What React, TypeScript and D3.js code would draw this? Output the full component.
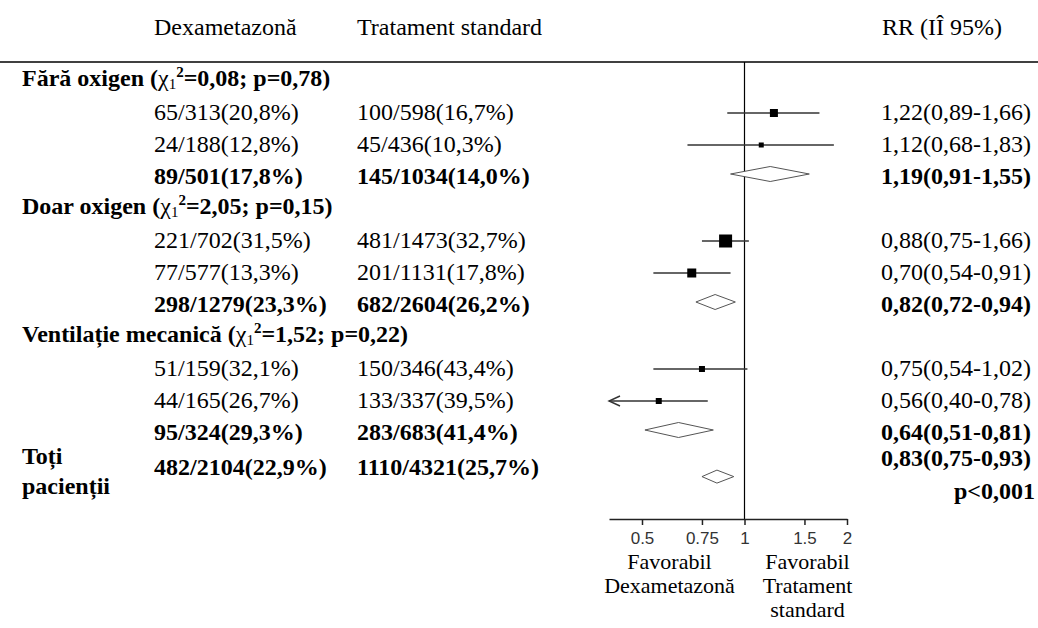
import React, { useRef, useEffect } from "react";
import * as d3 from "d3";

// subgroup headers
const groups = ["Fără oxigen", "Doar oxigen", "Ventilație mecanică"];
const groupChi = ["0,08", "2,05", "1,52"];
const groupP = ["0,78", "0,15", "0,22"];

// 3 rows per subgroup, the third one is the pooled estimate
const dexaCells = [
  "65/313(20,8%)", "24/188(12,8%)", "89/501(17,8%)",
  "221/702(31,5%)", "77/577(13,3%)", "298/1279(23,3%)",
  "51/159(32,1%)", "44/165(26,7%)", "95/324(29,3%)",
];
const stdCells = [
  "100/598(16,7%)", "45/436(10,3%)", "145/1034(14,0%)",
  "481/1473(32,7%)", "201/1131(17,8%)", "682/2604(26,2%)",
  "150/346(43,4%)", "133/337(39,5%)", "283/683(41,4%)",
];
const rrLabels = [
  "1,22(0,89-1,66)", "1,12(0,68-1,83)", "1,19(0,91-1,55)",
  "0,88(0,75-1,66)", "0,70(0,54-0,91)", "0,82(0,72-0,94)",
  "0,75(0,54-1,02)", "0,56(0,40-0,78)", "0,64(0,51-0,81)",
];
const rr = [1.22, 1.12, 1.19, 0.88, 0.7, 0.82, 0.75, 0.56, 0.64];
const ciLow = [0.89, 0.68, 0.91, 0.75, 0.54, 0.72, 0.54, 0.4, 0.51];
const ciHigh = [1.66, 1.83, 1.55, 1.03, 0.91, 0.94, 1.02, 0.78, 0.81];
const weights = [6.4, 2.5, 0, 16.9, 8.1, 0, 3.6, 3.6, 0];

// all patients
const totalDexa = "482/2104(22,9%)";
const totalStd = "1110/4321(25,7%)";
const totalRR = 0.83;
const totalLow = 0.75;
const totalHigh = 0.93;
const totalLabel = "0,83(0,75-0,93)";
const totalP = "p<0,001";

const tickValues = [0.5, 0.75, 1, 1.5, 2];

function App() {
  const svgRef = useRef<SVGSVGElement>(null);

  useEffect(() => {
    const W = 1038,
      H = 628;
    const serif = "'Liberation Serif', 'Times New Roman', serif";
    const fs = 24;

    const svg = d3.select(svgRef.current);
    svg.selectAll("*").remove();
    svg.attr("width", W).attr("height", H);

    const x = d3.scaleLog().domain([0.4, 2]).range([609, 847]);
    const row = d3.scaleLinear().domain([0, 1]).range([80, 112]); // row index -> y center
    const size = d3.scaleSqrt().domain([0, d3.max(weights)]).range([0, 13]);

    const colLabel = 22,
      colDexa = 154,
      colStd = 357,
      colRR = 881;

    const txt = (xx, yy, s, bold = false) =>
      svg
        .append("text")
        .attr("x", xx)
        .attr("y", yy + 8)
        .attr("font-family", serif)
        .attr("font-size", fs)
        .attr("font-weight", bold ? "bold" : "normal")
        .attr("fill", "#000")
        .text(s);

    // header
    txt(colDexa, 27, "Dexametazonă");
    txt(colStd, 27, "Tratament standard");
    txt(colRR + 1, 27, "RR (IÎ 95%)");
    svg
      .append("line")
      .attr("x1", 0)
      .attr("x2", W)
      .attr("y1", 62)
      .attr("y2", 62)
      .attr("stroke", "#000")
      .attr("stroke-width", 1.5);

    // line of no effect
    svg
      .append("line")
      .attr("x1", x(1))
      .attr("x2", x(1))
      .attr("y1", 62)
      .attr("y2", 519)
      .attr("stroke", "#000")
      .attr("stroke-width", 1.2);

    const diamond = (est, lo, hi, yy, h) =>
      svg
        .append("path")
        .attr(
          "d",
          `M${x(lo)},${yy}L${x(est)},${yy - h}L${x(hi)},${yy}L${x(est)},${yy + h}Z`
        )
        .attr("fill", "#fff")
        .attr("stroke", "#555")
        .attr("stroke-width", 1);

    groups.forEach((g, gi) => {
      const yh = row(gi * 4) - 2;
      const t = txt(colLabel, yh, g + " (", true);
      t.append("tspan").attr("font-weight", "normal").text("χ");
      t.append("tspan")
        .attr("font-weight", "normal")
        .attr("font-size", 15)
        .attr("dy", 3)
        .text("1");
      t.append("tspan").attr("font-size", 15).attr("dy", -12).text("2");
      t.append("tspan").attr("dy", 9).text(`=${groupChi[gi]}; p=${groupP[gi]})`);

      for (let k = 0; k < 3; k++) {
        const i = gi * 3 + k;
        const yy = row(gi * 4 + 1 + k);
        const pooled = k === 2;
        txt(colDexa, yy, dexaCells[i], pooled);
        txt(colStd, yy, stdCells[i], pooled);
        txt(colRR, yy, rrLabels[i], pooled);

        if (pooled) {
          diamond(rr[i], ciLow[i], ciHigh[i], yy - 2, 7.5);
        } else {
          const ym = yy + 1;
          const lo = Math.max(ciLow[i], x.domain()[0]);
          svg
            .append("line")
            .attr("x1", x(lo))
            .attr("x2", x(ciHigh[i]))
            .attr("y1", ym)
            .attr("y2", ym)
            .attr("stroke", "#333")
            .attr("stroke-width", 1.6);
          if (ciLow[i] <= x.domain()[0]) {
            svg
              .append("path")
              .attr(
                "d",
                `M${x(lo) + 11},${ym - 5}L${x(lo)},${ym}L${x(lo) + 11},${ym + 5}`
              )
              .attr("fill", "none")
              .attr("stroke", "#333")
              .attr("stroke-width", 1.4);
          }
          const s = size(weights[i]);
          svg
            .append("rect")
            .attr("x", x(rr[i]) - s / 2)
            .attr("y", ym - s / 2)
            .attr("width", s)
            .attr("height", s)
            .attr("fill", "#000");
        }
      }
    });

    // all patients
    const yT = row(11.8);
    txt(colLabel, yT - 2, "Toți", true);
    txt(colLabel, yT + 28, "pacienții", true);
    txt(colDexa, yT + 9, totalDexa, true);
    txt(colStd, yT + 9, totalStd, true);
    txt(colRR, yT, totalLabel, true);
    txt(1035, yT + 33, totalP, true).attr("text-anchor", "end");
    diamond(totalRR, totalLow, totalHigh, yT + 19, 6.5);

    // axis
    const axis = d3
      .axisBottom(x)
      .tickValues(tickValues)
      .tickSize(6)
      .tickSizeOuter(0)
      .tickFormat((d) => String(d));
    const ax = svg.append("g").attr("transform", "translate(0,519)").call(axis);
    ax.select(".domain").attr("stroke", "#222").attr("stroke-width", 1.5);
    ax.selectAll(".tick line").attr("stroke", "#222").attr("stroke-width", 1.5);
    ax.selectAll(".tick text")
      .attr("y", 13)
      .attr("font-family", "'Liberation Sans', Arial, sans-serif")
      .attr("font-size", 17)
      .attr("fill", "#333");

    // favour labels
    const foot = (xx, yy, s) =>
      svg
        .append("text")
        .attr("x", xx)
        .attr("y", yy)
        .attr("text-anchor", "middle")
        .attr("font-family", serif)
        .attr("font-size", 22)
        .attr("fill", "#000")
        .text(s);
    foot(x(1) - 75, 569, "Favorabil");
    foot(x(1) - 75, 593, "Dexametazonă");
    foot(x(1) + 63, 569, "Favorabil");
    foot(x(1) + 63, 593, "Tratament");
    foot(x(1) + 63, 617, "standard");
  }, []);

  return (
    <div style={{ position: "absolute", left: 0, top: 0, background: "#fff" }}>
      <svg ref={svgRef} style={{ display: "block" }}></svg>
    </div>
  );
}

export default App;
